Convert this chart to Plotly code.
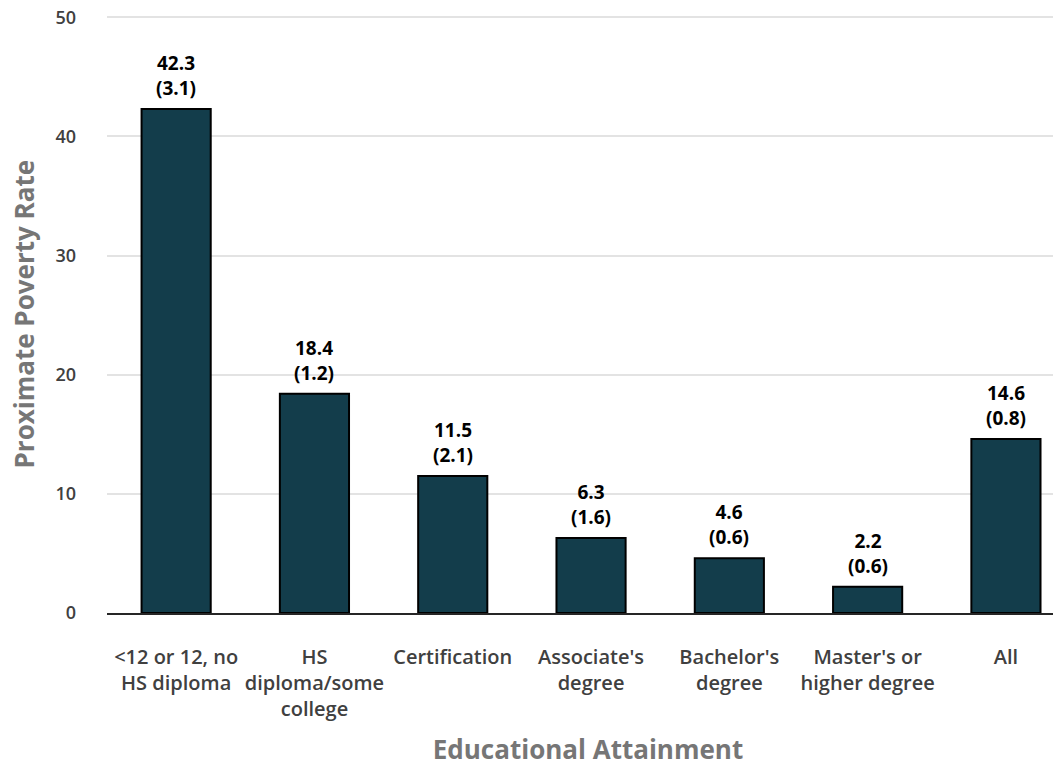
import plotly.graph_objects as go

categories = ["<12 or 12, no<br>HS diploma", "HS<br>diploma/some<br>college", "Certification",
              "Associate's<br>degree", "Bachelor's<br>degree", "Master's or<br>higher degree", "All"]
rates = [42.3, 18.4, 11.5, 6.3, 4.6, 2.2, 14.6]
std_errors = [3.1, 1.2, 2.1, 1.6, 0.6, 0.6, 0.8]

labels = [f"{r}<br>({se})" for r, se in zip(rates, std_errors)]
xpos = list(range(len(categories)))

fig = go.Figure()
fig.add_trace(go.Bar(
    x=xpos, y=rates,
    marker=dict(color='#133d4b', line=dict(color='black', width=2)),
    width=0.5,
))

# value labels with standard error, sitting above each bar
for x, r, lab in zip(xpos, rates, labels):
    fig.add_annotation(x=x, y=r, text=lab, showarrow=False, yanchor='bottom', yshift=6,
                       font=dict(family='Open Sans', size=19, color='black', weight='bold'))

# y title as annotation so it can sit further left than plotly's clamp allows
fig.add_annotation(xref='paper', yref='paper', x=0, y=0.5, xshift=-84, xanchor='center',
                   yanchor='middle', textangle=-90,
                   text='Proximate Poverty Rate', showarrow=False,
                   font=dict(family='Open Sans', size=26, color='#767676', weight='bold'))

fig.update_xaxes(
    tickvals=xpos, ticktext=categories,
    range=[-0.5, 6.456], showline=True, linecolor='#262626', linewidth=2,
    showgrid=False, ticks='', ticklabelstandoff=25, automargin=False,
    tickfont=dict(family='Open Sans', size=20, color='#404040', weight=600),
    title=dict(text='Educational Attainment', standoff=20,
               font=dict(family='Open Sans', size=26, color='#767676', weight='bold')),
)
fig.update_yaxes(
    range=[0, 50.1], tickvals=[0, 10, 20, 30, 40, 50], showgrid=True, gridcolor='#e3e3e3', gridwidth=1.5,
    zeroline=False, ticks='', ticklabelstandoff=30, automargin=False,
    ticklabeloverflow='allow',
    tickfont=dict(family='Open Sans', size=18, color='#404040', weight=600),
)
fig.update_layout(
    width=1061, height=762, plot_bgcolor='white', paper_bgcolor='white',
    margin=dict(l=99, r=0, t=8, b=157), showlegend=False,
)
fig.write_html("out.html")
